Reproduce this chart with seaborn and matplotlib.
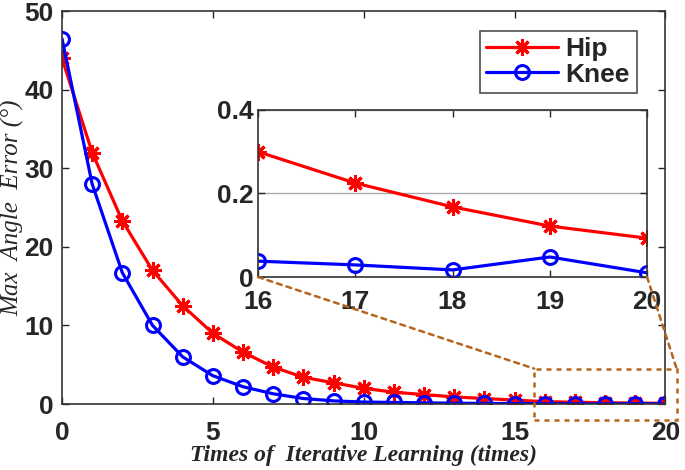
import numpy as np
import pandas as pd
import matplotlib
matplotlib.use("Agg")
import matplotlib.pyplot as plt
from matplotlib.patches import Rectangle, ConnectionPatch
import seaborn as sns

# data
iters = list(range(0, 21))
hip = [44.0, 32.0, 23.3, 17.0, 12.5, 9.0, 6.6, 4.7, 3.4, 2.7, 2.0,
       1.5, 1.2, 0.9, 0.7, 0.5, 0.30, 0.225, 0.168, 0.122, 0.093]
knee = [46.5, 28.0, 16.7, 10.0, 6.0, 3.6, 2.2, 1.3, 0.7, 0.4, 0.25,
        0.2, 0.15, 0.1, 0.08, 0.06, 0.038, 0.029, 0.017, 0.048, 0.010]
zoom_lo = 16  # the inset shows iterations 16..20

df = pd.DataFrame({"iter": iters, "Hip": hip, "Knee": knee})
df_zoom = df[df["iter"] >= zoom_lo]

sns.set_style("ticks")
plt.rcParams["font.family"] = ["Liberation Sans", "DejaVu Sans"]
plt.rcParams["xtick.direction"] = "in"
plt.rcParams["ytick.direction"] = "in"

hip_kw = dict(color="#ff0000", linewidth=2.3, marker=(8, 2, 0), markersize=12,
              markeredgewidth=2.2, markeredgecolor="#ff0000")
knee_kw = dict(color="#0000ff", linewidth=2.3, marker="o", markersize=10,
               markeredgewidth=2.2, markerfacecolor="none", markeredgecolor="#0000ff")

fig = plt.figure(figsize=(6.85, 4.70), dpi=100)
ax = fig.add_axes([0.0905, 0.1404, 0.881, 0.836])

sns.lineplot(data=df, x="iter", y="Hip", ax=ax, label="Hip", **hip_kw)
sns.lineplot(data=df, x="iter", y="Knee", ax=ax, label="Knee", **knee_kw)

ax.set_xlim(0, 20)
ax.set_ylim(0, 50)
ax.set_xticks([0, 5, 10, 15, 20])
ax.set_yticks([0, 10, 20, 30, 40, 50])
ax.tick_params(top=True, right=True, labelsize=19, width=1, length=5, pad=6)
ax.tick_params(axis="x", pad=12)
for lab in ax.get_xticklabels() + ax.get_yticklabels():
    lab.set_fontweight("bold")
for lab in ax.get_yticklabels():
    lab.set_verticalalignment("center_baseline")
for sp in ax.spines.values():
    sp.set_color("#333333")
    sp.set_linewidth(1.2)

ax.set_xlabel("Times of  Iterative Learning (times)", fontsize=17, family="Liberation Serif",
              style="italic", fontweight="bold", labelpad=0)
ax.set_ylabel("Max  Angle  Error (°)", fontsize=18, family="Liberation Serif",
              style="italic", labelpad=0)

leg = ax.legend(loc="upper right", bbox_to_anchor=(0.952, 0.95), fontsize=19,
                frameon=True, fancybox=False, handlelength=2.7, borderpad=0.25,
                labelspacing=0.05, handletextpad=0.3, borderaxespad=0)
leg.get_frame().set_edgecolor("#222222")
leg.get_frame().set_linewidth(1.2)
for t in leg.get_texts():
    t.set_fontweight("bold")

# dashed box around the zoomed region
box_col = "#b5651d"
box = Rectangle((15.65, -2.0), 4.72, 6.5, fill=False, edgecolor=box_col,
                linestyle=(0, (2, 2)), linewidth=1.8, clip_on=False, zorder=5)
ax.add_patch(box)

# inset
axin = fig.add_axes([0.3766, 0.4106, 0.568, 0.3554])
sns.lineplot(data=df_zoom, x="iter", y="Hip", ax=axin, legend=False, **hip_kw)
sns.lineplot(data=df_zoom, x="iter", y="Knee", ax=axin, legend=False, **knee_kw)
axin.set_xlim(16, 20)
axin.set_ylim(0, 0.4)
axin.set_xticks([16, 17, 18, 19, 20])
axin.set_yticks([0, 0.2, 0.4])
axin.set_yticklabels(["0", "0.2", "0.4"])
axin.yaxis.grid(True, color="#aaaaaa", linewidth=1)
axin.tick_params(top=True, right=True, labelsize=19, width=1, length=5, pad=3)
axin.tick_params(axis="x", pad=9)
for lab in axin.get_xticklabels() + axin.get_yticklabels():
    lab.set_fontweight("bold")
axin.set_xlabel("")
axin.set_ylabel("")
for sp in axin.spines.values():
    sp.set_color("#333333")
    sp.set_linewidth(1.2)

# connecting dashed lines
for (xa, xb) in [(16, 15.65), (20, 20.37)]:
    con = ConnectionPatch(xyA=(xa, 0), coordsA=axin.transData,
                          xyB=(xb, 4.5), coordsB=ax.transData,
                          color=box_col, linestyle=(0, (2, 2)), linewidth=1.8, zorder=5)
    fig.add_artist(con)

fig.savefig("out.png", dpi=100)
